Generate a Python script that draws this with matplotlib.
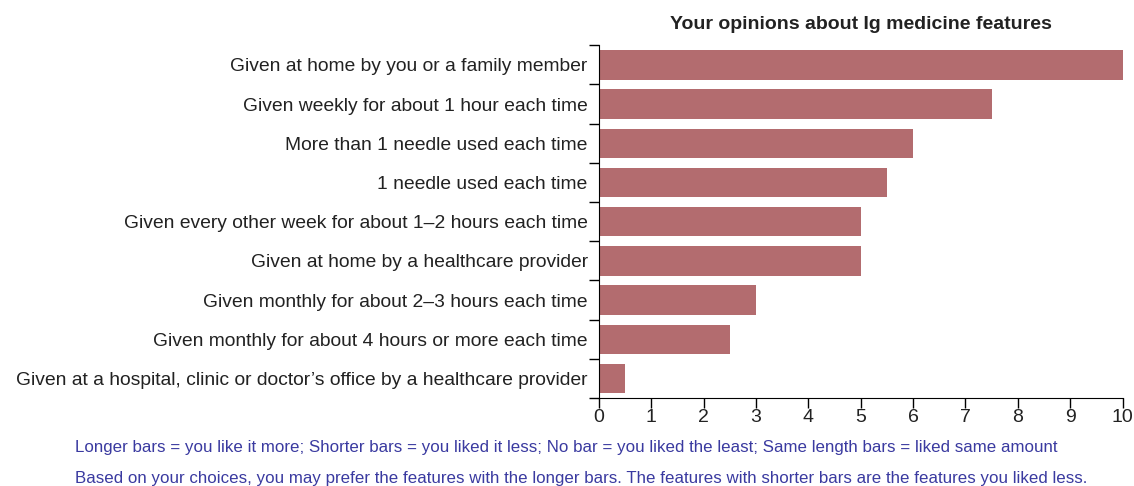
import numpy as np
import matplotlib.pyplot as plt
from matplotlib.ticker import FixedLocator

features = [
    "Given at home by you or a family member",
    "Given weekly for about 1 hour each time",
    "More than 1 needle used each time",
    "1 needle used each time",
    "Given every other week for about 1\u20132 hours each time",
    "Given at home by a healthcare provider",
    "Given monthly for about 2\u20133 hours each time",
    "Given monthly for about 4 hours or more each time",
    "Given at a hospital, clinic or doctor\u2019s office by a healthcare provider",
]
scores = [10, 7.5, 6.0, 5.5, 5.0, 5.0, 3.0, 2.5, 0.5]
xticks = list(range(0, 11))

title = "Your opinions about Ig medicine features"
note1 = "Longer bars = you like it more; Shorter bars = you liked it less; No bar = you liked the least; Same length bars = liked same amount"
note2 = "Based on your choices, you may prefer the features with the longer bars. The features with shorter bars are the features you liked less."

plt.rcParams['font.family'] = ['Liberation Sans', 'DejaVu Sans']

fig = plt.figure(figsize=(11.34, 4.86), dpi=100)
ax = fig.add_axes([0.528, 0.181, 0.462, 0.726])

y = np.arange(len(features))
ax.barh(y, scores, height=0.75, color='#b36c6f')
ax.set_ylim(len(features) - 0.5, -0.5)
ax.set_xlim(0, 10)

# labels sit on the bar centres, short ticks mark the gaps between bars
ax.set_yticks(y)
ax.set_yticklabels(features, fontsize=13.9, color='#222222')
ax.tick_params(axis='y', which='major', length=0, pad=8)
ax.yaxis.set_minor_locator(FixedLocator(np.arange(-0.5, len(features), 1)))
ax.tick_params(axis='y', which='minor', length=7, width=1)

ax.set_xticks(xticks)
ax.set_xticklabels([str(t) for t in xticks], fontsize=14, color='#222222')
ax.tick_params(axis='x', length=7, width=1, pad=1)

for s in ['top', 'right']:
    ax.spines[s].set_visible(False)

ax.set_title(title, fontsize=14, fontweight='bold', color='#222222', pad=12)

fig.text(0.066, 0.080, note1, fontsize=12.2, color='#3a3aa0', va='center')
fig.text(0.066, 0.016, note2, fontsize=12.2, color='#3a3aa0', va='center')

fig.savefig('out.png', dpi=100)
